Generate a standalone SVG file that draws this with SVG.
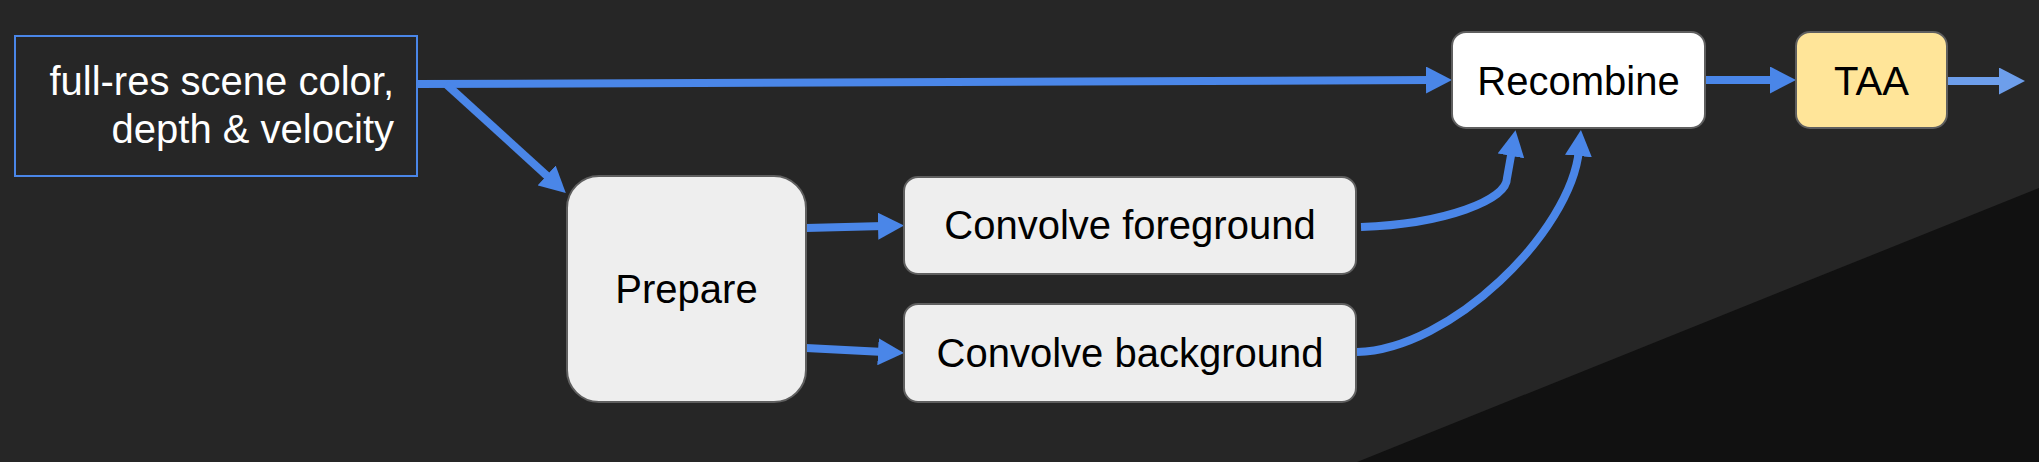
<svg xmlns="http://www.w3.org/2000/svg" width="2039" height="462" viewBox="0 0 2039 462">
<style>
.node{stroke:#5f5f5f;stroke-width:2}
.lbl{font-family:"Liberation Sans",Arial,sans-serif;font-size:40px;fill:#000;text-anchor:middle}
.conn{fill:none;stroke:#4a86e8;stroke-width:8}
</style>
<defs>
<marker id="ah" markerUnits="userSpaceOnUse" viewBox="0 0 26 27" markerWidth="26" markerHeight="27" refX="6" refY="13.5" orient="auto"><path d="M0,0 L26,13.5 L0,27 z" fill="#4a86e8"/></marker>
<marker id="ah2" markerUnits="userSpaceOnUse" viewBox="0 0 26 27" markerWidth="26" markerHeight="27" refX="6" refY="13.5" orient="auto"><path d="M0,0 L26,13.5 L0,27 z" fill="#6d9eeb"/></marker>
</defs>
<rect x="0" y="0" width="2039" height="462" fill="#262626"/>
<polygon points="1357,462 2039,188 2039,462" fill="#111111"/>
<g id="connectors">
<path class="conn" d="M417,84 L1432,80" marker-end="url(#ah)"/>
<path class="conn" d="M446,84 L551,179.5" marker-end="url(#ah)"/>
<path class="conn" d="M806,228 L884,226" marker-end="url(#ah)"/>
<path class="conn" d="M806,348 L884,352" marker-end="url(#ah)"/>
<path class="conn" d="M1361,227 C1445,224 1507,200 1507,178 L1512,150" marker-end="url(#ah)"/>
<path class="conn" d="M1357,352 C1450,350 1571,232 1579,150" marker-end="url(#ah)"/>
<path class="conn" d="M1705,80 L1776,80" marker-end="url(#ah)"/>
<path class="conn" d="M1947,81 L2005,81" style="stroke:#6d9eeb" marker-end="url(#ah2)"/>
</g>
<g id="input">
<rect x="15" y="36" width="402" height="140" fill="none" stroke="#4a86e8" stroke-width="2"/>
<text class="lbl" x="394" y="95" style="fill:#fff;text-anchor:end">full-res scene color,</text>
<text class="lbl" x="394" y="143" style="fill:#fff;text-anchor:end">depth &amp; velocity</text>
</g>
<g id="prepare">
<rect class="node" x="567" y="176" width="239" height="226" rx="32" fill="#eeeeee"/>
<text class="lbl" x="686.5" y="303">Prepare</text>
</g>
<g id="convolve-fg">
<rect class="node" x="904" y="177" width="452" height="97" rx="14" fill="#eeeeee"/>
<text class="lbl" x="1130" y="239">Convolve foreground</text>
</g>
<g id="convolve-bg">
<rect class="node" x="904" y="304" width="452" height="98" rx="14" fill="#eeeeee"/>
<text class="lbl" x="1130" y="367">Convolve background</text>
</g>
<g id="recombine">
<rect class="node" x="1452" y="32" width="253" height="96" rx="14" fill="#ffffff"/>
<text class="lbl" x="1578.5" y="95">Recombine</text>
</g>
<g id="taa">
<rect class="node" x="1796" y="32" width="151" height="96" rx="14" fill="#ffe599"/>
<text class="lbl" x="1871.5" y="95">TAA</text>
</g>
</svg>
